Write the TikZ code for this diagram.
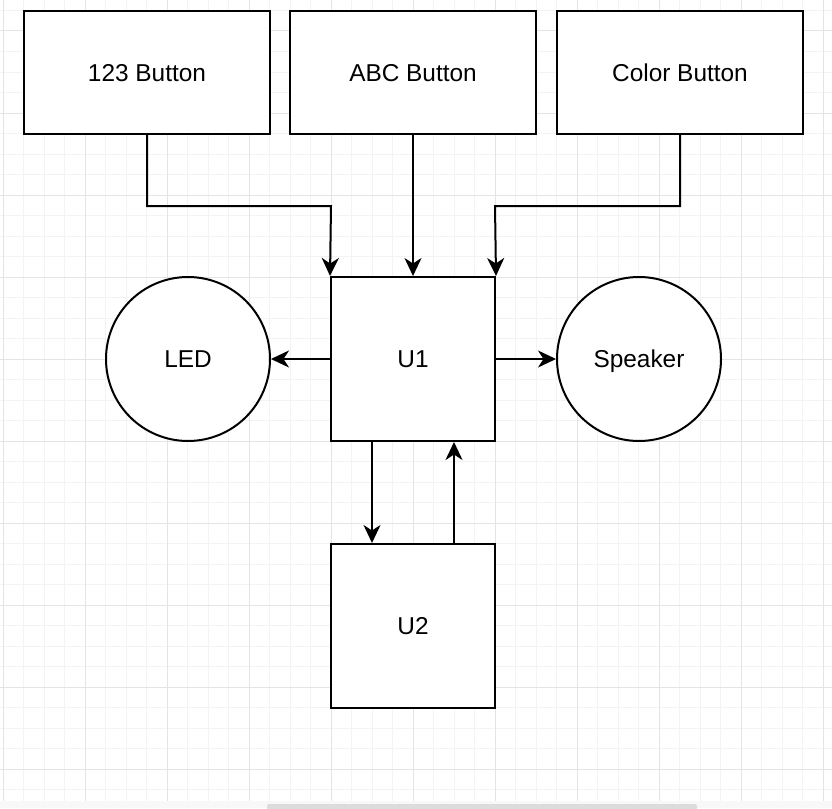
\documentclass[tikz,border=0pt]{standalone}
\usepackage{fontspec}
\setmainfont{Liberation Sans}
\usetikzlibrary{arrows.meta}
\definecolor{minorgrid}{HTML}{F3F3F3}
\definecolor{majorgrid}{HTML}{E4E4E4}
\definecolor{scrollbg}{HTML}{F8F8F8}
\definecolor{scrollthumb}{HTML}{DCDCDC}
\begin{document}
\begin{tikzpicture}[x=1pt,y=-1pt,
  box/.style={draw=black,line width=2pt,fill=white,rectangle,inner sep=0pt,text height=17.5pt,text depth=0pt,font=\fontsize{24.4}{28}\selectfont},
  circ/.style={draw=black,line width=2pt,fill=white,circle,inner sep=0pt,minimum size=164pt,text height=17.5pt,text depth=0pt,font=\fontsize{24.4}{28}\selectfont},
  conn/.style={draw=black,line width=2pt,-{Stealth[length=18pt,width=17pt,inset=5.5pt]}}]
\useasboundingbox (0,0) rectangle (832,808);
\fill[white] (0,0) rectangle (832,808);
% grid
\begin{scope}
\clip (0,0) rectangle (832,800.5);
\foreach \i in {-1,...,40} {
  \pgfmathsetmacro{\gx}{3+20.5*\i}
  \draw[minorgrid,line width=1pt] (\gx,0) -- (\gx,808);
  \draw[minorgrid,line width=1pt] (0,\gx+7.5) -- (832,\gx+7.5);
}
\foreach \i in {0,...,10} {
  \pgfmathsetmacro{\gx}{3+82*\i}
  \draw[majorgrid,line width=1pt] (\gx,0) -- (\gx,808);
  \draw[majorgrid,line width=1pt] (0,\gx+28) -- (832,\gx+28);
}
\end{scope}
\fill[scrollbg] (0,800.5) rectangle (832,808);
\fill[scrollthumb,rounded corners=2pt] (267,804) rectangle (697,810);
% nodes
\node[box,minimum width=246pt,minimum height=123pt] (b123) at (147,72.5) {123 Button};
\node[box,minimum width=246pt,minimum height=123pt] (babc) at (413,72.5) {ABC Button};
\node[box,minimum width=246pt,minimum height=123pt] (bcol) at (680,72.5) {Color Button};
\node[box,minimum width=164pt,minimum height=164pt] (u1) at (413,359) {U1};
\node[box,minimum width=164pt,minimum height=164pt] (u2) at (413,626) {U2};
\node[circ] (led) at (188,359) {LED};
\node[circ] (spk) at (639,359) {Speaker};
% connectors
\coordinate (c1) at (147,206);
\coordinate (c2) at (331,206);
\coordinate (c3) at (680,206);
\coordinate (c4) at (495,206);
\draw[conn] (b123.south) -- (c1) -- (c2) -- (u1.north west);
\draw[conn] (babc.south) -- (u1.north);
\draw[conn] (bcol.south) -- (c3) -- (c4) -- (u1.north east);
\draw[conn] (u1.west) -- (led.east);
\draw[conn] (u1.east) -- (spk.west);
\draw[conn] ([xshift=-41pt]u1.south) -- ([xshift=-41pt]u2.north);
\draw[conn] ([xshift=41pt]u2.north) -- ([xshift=41pt]u1.south);
\end{tikzpicture}
\end{document}
